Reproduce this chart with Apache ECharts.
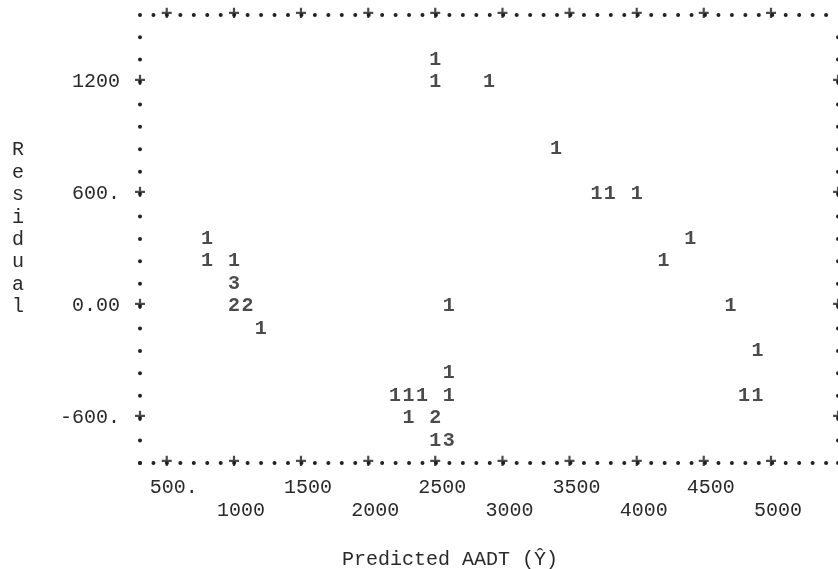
<!DOCTYPE html>
<html><head><meta charset="utf-8">
<script src="https://cdn.jsdelivr.net/npm/echarts@6/dist/echarts.min.js"></script>
<style>html,body{margin:0;padding:0;background:#fff}#c{width:838px;height:569px}</style>
</head><body><div id="c"></div>
<script>
// Predicted AADT (x), residual (y), and the printed count character at each cell
const predicted = [2500, 2500, 2900, 3400, 3700, 3800, 4000, 800, 4400, 800, 1000, 4200, 1000, 1000, 1100, 2600, 4700, 1200, 4900, 2600, 2200, 2300, 2400, 2600, 4800, 4900, 2300, 2500, 2500, 2600];
const residual  = [1320, 1200, 1200, 840, 600, 600, 600, 360, 360, 240, 240, 240, 120, 0, 0, 0, 0, -120, -240, -360, -480, -480, -480, -480, -480, -480, -600, -600, -720, -720];
const counts    = ['1','1','1','1','1','1','1','1','1','1','1','1','3','2','2','1','1','1','1','1','1','1','1','1','1','1','1','2','1','3'];

const xTickValues = [500, 1000, 1500, 2000, 2500, 3000, 3500, 4000, 4500, 5000];
const xTickLabels = ['500.', '1000', '1500', '2000', '2500', '3000', '3500', '4000', '4500', '5000'];
const yTickValues = [-600, 0, 600, 1200];
const yTickLabels = ['-600.', '0.00', '600.', '1200'];
const xRange = [300, 5500];
const yRange = [-840, 1560];

const MONO = 'Liberation Mono';
const INK = '#1e1e1e';

const gridW = 699, gridH = 448;
const xCells = (xRange[1] - xRange[0]) / 100;   // printer columns
const yCells = (yRange[1] - yRange[0]) / 120;   // printer rows
const dotX = { show: true, onZero: false, lineStyle: { color: '#222', width: 4, cap: 'round', type: [0.01, gridW / xCells] } };
const dotY = { show: true, onZero: false, lineStyle: { color: '#222', width: 4, cap: 'round', type: [0.01, gridH / yCells] } };

const plusData = []
  .concat(xTickValues.map(v => [v, yRange[0]]))
  .concat(xTickValues.map(v => [v, yRange[1]]))
  .concat(yTickValues.map(v => [xRange[0], v]))
  .concat(yTickValues.map(v => [xRange[1], v]));

const pointData = predicted.map((x, i) => ({ value: [x, residual[i]], label: { formatter: counts[i] } }));

const chart = echarts.init(document.getElementById('c'), null, { renderer: 'canvas' });
chart.setOption({
  animation: false,
  backgroundColor: '#fff',
  title: [
    { text: 'Predicted AADT (\u0176)', left: 337, top: 545,
      textStyle: { fontFamily: MONO, fontSize: 20, fontWeight: 'normal', color: '#2a2a2a' } },
    { text: 'R\ne\ns\ni\nd\nu\na\nl', left: 7, top: 134,
      textStyle: { fontFamily: MONO, fontSize: 20, fontWeight: 'normal', color: '#2a2a2a', lineHeight: 22.4 } }
  ],
  grid: { left: 140, top: 15, width: gridW, height: gridH, containLabel: false },
  xAxis: [
    { type: 'value', min: xRange[0], max: xRange[1], position: 'bottom',
      axisLine: dotX, axisTick: { show: false }, splitLine: { show: false },
      axisLabel: {
        customValues: xTickValues,
        formatter: v => { const i = xTickValues.indexOf(v); return i % 2 === 0 ? xTickLabels[i] : '\n' + xTickLabels[i]; },
        fontFamily: MONO, fontSize: 20, color: '#2a2a2a', lineHeight: 23, verticalAlign: 'top',
        margin: 13, padding: [0, 0, 0, 14]
      } },
    { type: 'value', min: xRange[0], max: xRange[1], position: 'top',
      axisLine: dotX, axisTick: { show: false }, splitLine: { show: false }, axisLabel: { show: false } }
  ],
  yAxis: [
    { type: 'value', min: yRange[0], max: yRange[1], position: 'left',
      axisLine: dotY, axisTick: { show: false }, splitLine: { show: false },
      axisLabel: {
        customValues: yTickValues,
        formatter: v => yTickLabels[yTickValues.indexOf(v)],
        fontFamily: MONO, fontSize: 20, color: '#2a2a2a', margin: 20
      } },
    { type: 'value', min: yRange[0], max: yRange[1], position: 'right',
      axisLine: dotY, axisTick: { show: false }, splitLine: { show: false }, axisLabel: { show: false } }
  ],
  series: [
    { type: 'scatter', silent: true, clip: false, data: plusData, symbolSize: 1,
      itemStyle: { color: 'rgba(0,0,0,0)' },
      label: { show: true, position: 'inside', formatter: '+', fontFamily: MONO, fontSize: 20, fontWeight: 'bold', color: INK } },
    { type: 'scatter', silent: true, clip: false, data: pointData, symbolSize: 1,
      itemStyle: { color: 'rgba(0,0,0,0)' },
      label: { show: true, position: 'inside', fontFamily: MONO, fontSize: 20, fontWeight: 'bold', color: INK } }
  ]
});
</script></body></html>
